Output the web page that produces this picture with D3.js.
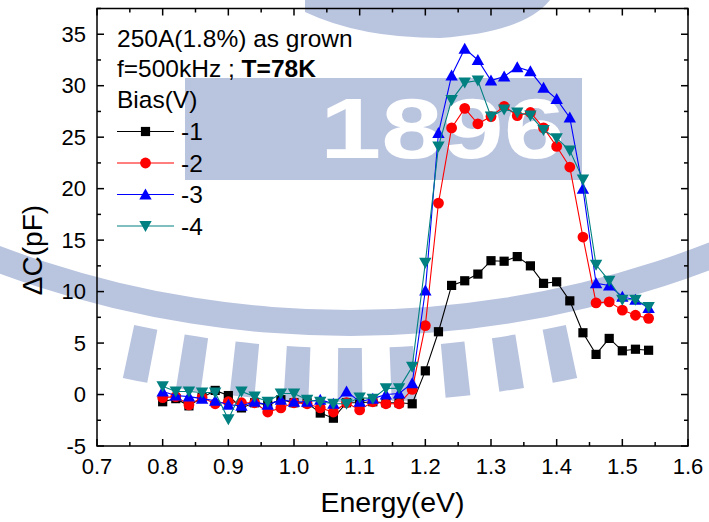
<!DOCTYPE html>
<html>
<head>
<meta charset="utf-8">
<script src="https://cdn.jsdelivr.net/npm/d3@7"></script>
<style>
  html, body { margin: 0; padding: 0; background: #fff; }
  svg { display: block; font-family: Arial, "Liberation Sans", Helvetica, sans-serif; }
</style>
</head>
<body>
<svg id="chart" width="709" height="522"></svg>
<script>
// Photon energy (eV) for each measurement point
const energy = [0.80, 0.82, 0.84, 0.86, 0.88, 0.90, 0.92, 0.94, 0.96, 0.98,
                1.00, 1.02, 1.04, 1.06, 1.08, 1.10, 1.12, 1.14, 1.16, 1.18,
                1.20, 1.22, 1.24, 1.26, 1.28, 1.30, 1.32, 1.34, 1.36, 1.38,
                1.40, 1.42, 1.44, 1.46, 1.48, 1.50, 1.52, 1.54];

// Capacitance change ΔC (pF) at each bias
const bias1 = [-0.7, -0.4, -1.1, -0.3, 0.4, -0.1, -1.3, -0.8, -1.0, -0.5,
               -0.8, -0.8, -1.8, -2.3, -0.8, -0.8, -0.7, -0.8, -0.8, -0.9,
               2.3, 6.1, 10.6, 11.05, 11.7, 13.0, 12.95, 13.4, 12.5, 10.8,
               10.95, 9.1, 6.0, 3.9, 5.45, 4.25, 4.4, 4.3];
const bias2 = [-0.3, -0.2, -1.0, -0.3, -0.9, -0.7, -0.8, -0.8, -1.7, -1.3,
               -0.8, -0.9, -1.3, -1.7, -0.8, -1.5, -0.7, -0.9, -0.9, 0.5,
               6.7, 18.6, 25.9, 27.8, 26.3, 27.0, 28.0, 27.1, 27.4, 25.9,
               24.1, 22.1, 15.3, 8.9, 9.0, 8.2, 7.7, 7.4];
const bias3 = [0.3, -0.1, -0.2, -0.4, -0.6, -1.0, -1.1, -0.7, -1.0, -0.5,
               -0.7, -0.7, -0.5, -0.9, 0.3, -0.7, -0.4, 0.0, 0.1, 1.1,
               10.1, 25.4, 31.0, 33.6, 32.5, 30.5, 30.9, 31.8, 31.4, 29.8,
               28.7, 26.9, 20.0, 10.8, 10.6, 9.5, 9.2, 8.4];
const bias4 = [0.8, 0.3, 0.3, 0.2, 0.2, -2.4, 0.3, -0.2, -0.7, 0.1,
               0.1, -0.5, -0.7, -0.9, -0.9, -0.3, -0.4, 0.6, 0.6, 2.7,
               12.8, 24.1, 28.6, 30.3, 30.5, 27.0, 27.7, 27.4, 27.1, 25.7,
               24.9, 23.7, 20.9, 12.6, 11.05, 9.2, 9.2, 8.5];

const seriesNames = ["-1", "-2", "-3", "-4"];
const seriesColors = ["#000000", "#ff0000", "#0000ff", "#008080"];
const seriesShapes = ["square", "circle", "triangleUp", "triangleDown"];
const seriesValues = [bias1, bias2, bias3, bias4];

const xTicks = [0.7, 0.8, 0.9, 1.0, 1.1, 1.2, 1.3, 1.4, 1.5, 1.6];
const yTicks = [-5, 0, 5, 10, 15, 20, 25, 30, 35];

const svg = d3.select("#chart");
const plot = { left: 97, right: 688, top: 8.5, bottom: 446 };

const x = d3.scaleLinear().domain([0.7, 1.6]).range([plot.left, plot.right]);
const y = d3.scaleLinear().domain([-5, 37.5]).range([plot.bottom, plot.top]);

// ---- faint institutional logo in the background ----
const wm = svg.append("g").attr("class", "watermark");
const wmColor = "#b9c4df";
const cx = 350, cy = -680, rIn = 990, rOut = 1016;
wm.append("path")
  .attr("d", d3.arc().innerRadius(rIn).outerRadius(rOut).startAngle(Math.PI * 0.8).endAngle(Math.PI * 1.2)())
  .attr("transform", `translate(${cx},${cy})`).attr("fill", wmColor);
// radial bars hanging under the ring
d3.range(-0.2, 0.205, 0.05).forEach(a => {
  const bar = d3.arc().innerRadius(rOut + 12).outerRadius(rOut + 66)
    .startAngle(Math.PI + a - 0.0115).endAngle(Math.PI + a + 0.0115);
  wm.append("path").attr("d", bar()).attr("transform", `translate(${cx},${cy})`).attr("fill", wmColor);
});
// banner strip with the year
wm.append("rect").attr("x", 185).attr("y", 78).attr("width", 397).attr("height", 102).attr("fill", wmColor);
wm.append("text").attr("x", 320).attr("y", 158)
  .attr("font-size", 86).attr("font-weight", "bold").attr("fill", "#ffffff")
  .attr("textLength", 245).attr("lengthAdjust", "spacingAndGlyphs").text("1896");
// dome above the banner
wm.append("path").attr("d", "M305,0 L550,0 Q525,32 440,38 Q360,38 305,12 Z").attr("fill", wmColor);

// ---- axes frame and ticks ----
const frame = svg.append("g");
frame.append("rect")
  .attr("x", plot.left).attr("y", plot.top)
  .attr("width", plot.right - plot.left).attr("height", plot.bottom - plot.top)
  .attr("fill", "none").attr("stroke", "#000").attr("stroke-width", 1.5);

const majorLen = 7, minorLen = 4;
const xMinor = d3.range(0.75, 1.6, 0.1);
const yMinor = d3.range(-2.5, 37.6, 5);

function xTickLines(vals, len) {
  vals.forEach(v => {
    const px = x(v);
    frame.append("line").attr("x1", px).attr("x2", px).attr("y1", plot.bottom).attr("y2", plot.bottom - len)
      .attr("stroke", "#000").attr("stroke-width", 1.5);
    frame.append("line").attr("x1", px).attr("x2", px).attr("y1", plot.top).attr("y2", plot.top + len)
      .attr("stroke", "#000").attr("stroke-width", 1.5);
  });
}
function yTickLines(vals, len) {
  vals.forEach(v => {
    const py = y(v);
    frame.append("line").attr("y1", py).attr("y2", py).attr("x1", plot.left).attr("x2", plot.left + len)
      .attr("stroke", "#000").attr("stroke-width", 1.5);
    frame.append("line").attr("y1", py).attr("y2", py).attr("x1", plot.right).attr("x2", plot.right - len)
      .attr("stroke", "#000").attr("stroke-width", 1.5);
  });
}
xTickLines(xTicks, majorLen);
xTickLines(xMinor, minorLen);
yTickLines(yTicks, majorLen);
yTickLines(yMinor, minorLen);

// tick labels
svg.append("g").selectAll("text").data(xTicks).join("text")
  .attr("x", d => x(d)).attr("y", plot.bottom + 28)
  .attr("text-anchor", "middle").attr("font-size", 22).attr("fill", "#000")
  .text(d => d3.format(".1f")(d));
svg.append("g").selectAll("text").data(yTicks).join("text")
  .attr("x", plot.left - 11).attr("y", d => y(d) + 7.5)
  .attr("text-anchor", "end").attr("font-size", 22).attr("fill", "#000")
  .text(d => d);

// axis titles
svg.append("text").attr("x", (plot.left + plot.right) / 2).attr("y", 512)
  .attr("text-anchor", "middle").attr("font-size", 28.5).attr("fill", "#000").text("Energy(eV)");
svg.append("text").attr("transform", "translate(42,250) rotate(-90)")
  .attr("text-anchor", "middle").attr("font-size", 28).attr("fill", "#000").text("ΔC(pF)");

// ---- marker shapes ----
function markerPath(shape) {
  switch (shape) {
    case "square": return "M-4.6,-4.6H4.6V4.6H-4.6Z";
    case "circle": return d3.symbol(d3.symbolCircle, Math.PI * 5.4 * 5.4)();
    case "triangleUp": return "M0,-6L6.2,5H-6.2Z";
    case "triangleDown": return "M0,6L6.2,-5H-6.2Z";
  }
}

// ---- data series ----
const line = d3.line().x(d => x(d[0])).y(d => y(d[1]));
svg.append("clipPath").attr("id", "plotClip").append("rect")
  .attr("x", plot.left).attr("y", plot.top).attr("width", plot.right - plot.left).attr("height", plot.bottom - plot.top);

seriesValues.forEach((vals, i) => {
  const pts = energy.map((e, k) => [e, vals[k]]);
  const g = svg.append("g").attr("clip-path", "url(#plotClip)");
  g.append("path").attr("d", line(pts)).attr("fill", "none")
    .attr("stroke", seriesColors[i]).attr("stroke-width", 1.1);
  g.selectAll("path.m").data(pts).join("path").attr("class", "m")
    .attr("d", markerPath(seriesShapes[i]))
    .attr("transform", d => `translate(${x(d[0])},${y(d[1])})`)
    .attr("fill", seriesColors[i]);
});

// ---- legend / annotation ----
const lg = svg.append("g").attr("font-size", 24.5).attr("fill", "#000");
lg.append("text").attr("x", 117).attr("y", 47).text("250A(1.8%) as grown");
const l2 = lg.append("text").attr("x", 117).attr("y", 77);
l2.append("tspan").text("f=500kHz ; ");
l2.append("tspan").attr("font-weight", "bold").text("T=78K");
lg.append("text").attr("x", 117).attr("y", 108).text("Bias(V)");

const legendY = [131.5, 163, 194.5, 226];
seriesNames.forEach((name, i) => {
  const ly = legendY[i];
  lg.append("line").attr("x1", 117).attr("x2", 174).attr("y1", ly).attr("y2", ly)
    .attr("stroke", seriesColors[i]).attr("stroke-width", 1.1);
  lg.append("path").attr("d", markerPath(seriesShapes[i]))
    .attr("transform", `translate(145.5,${ly})`).attr("fill", seriesColors[i]);
  lg.append("text").attr("x", 181).attr("y", ly + 8.5).text(name);
});
</script>
</body>
</html>
